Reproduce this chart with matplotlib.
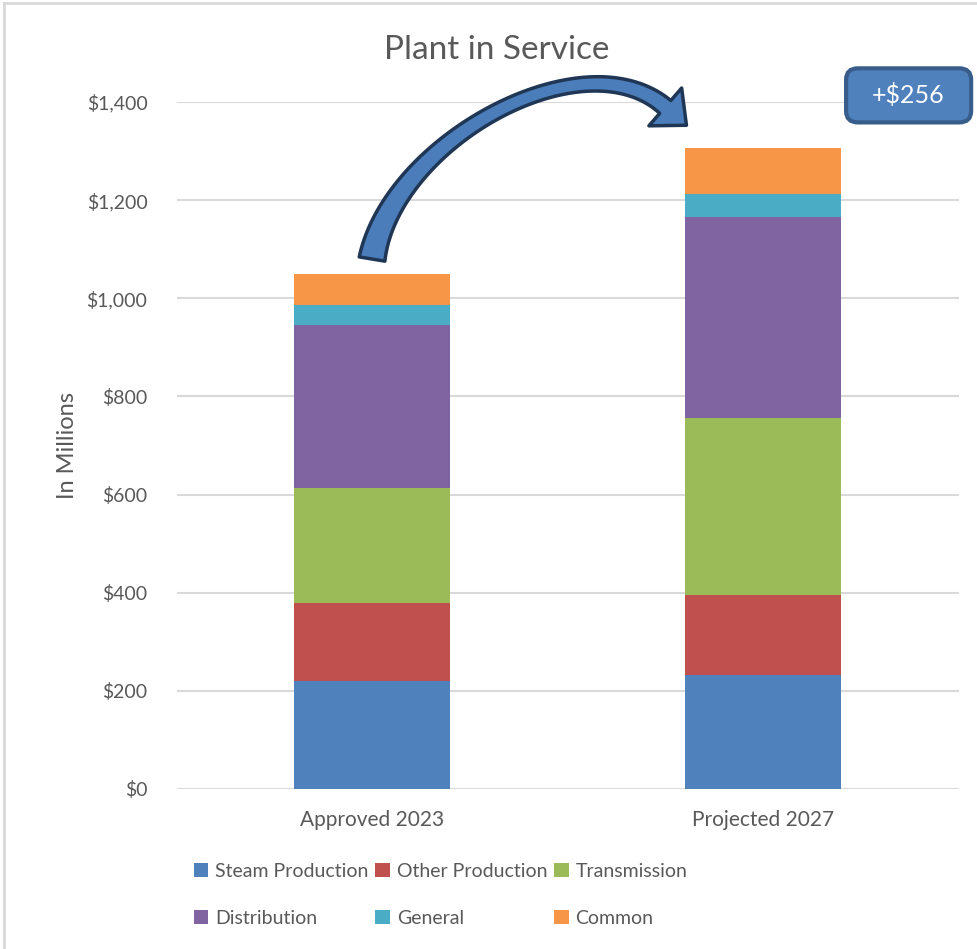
import numpy as np
import matplotlib
matplotlib.use('Agg')
import matplotlib.pyplot as plt
from matplotlib.patches import Polygon, FancyBboxPatch
from matplotlib.lines import Line2D
from matplotlib.transforms import IdentityTransform
from matplotlib.ticker import FuncFormatter

plt.rcParams['font.family'] = ['Lato', 'DejaVu Sans']

# plant balances, $ millions
categories = ['Approved 2023', 'Projected 2027']
steam = [220, 232]
other_prod = [159, 163]
transmission = [234, 361]
distribution = [333, 410]
general = [40, 47]
common = [64, 93]

series_names = ['Steam Production', 'Other Production', 'Transmission',
                'Distribution', 'General', 'Common']
series_vals = [steam, other_prod, transmission, distribution, general, common]
colors = ['#4f81bd', '#c0504d', '#9bbb59', '#8064a2', '#4bacc6', '#f79646']
gray = '#595959'

fig = plt.figure(figsize=(9.77, 9.49), dpi=100)
ax = fig.add_axes([0.1807, 0.1686, 0.8004, 0.7239])

x = np.arange(len(categories))
bottom = np.zeros(len(categories))
bars = []
for name, vals, c in zip(series_names, series_vals, colors):
    b = ax.bar(x, vals, 0.4, bottom=bottom, color=c, label=name, zorder=3)
    bars.append(b)
    bottom += np.array(vals)
totals = bottom

ax.set_xlim(-0.5, 1.5)
ax.set_ylim(0, 1400)
ax.set_yticks(np.arange(0, 1401, 200))
ax.yaxis.set_major_formatter(FuncFormatter(lambda v, p: '${:,.0f}'.format(v)))
ax.set_xticks(x)
ax.set_xticklabels(categories)
ax.grid(axis='y', color='#d9d9d9', lw=1.5, zorder=0)
for s in ax.spines.values():
    s.set_visible(False)
ax.tick_params(axis='y', length=0, pad=21, labelsize=14, labelcolor=gray)
ax.tick_params(axis='x', length=0, pad=15, labelsize=15, labelcolor=gray)

fig.text(0.508, 0.947, 'Plant in Service', ha='center', va='center',
         fontsize=24, color=gray)
fig.text(0.0686, 0.531, 'In Millions', rotation=90, ha='center',
         va='center', fontsize=17, color=gray)

# legend laid out row by row
order = [0, 3, 1, 4, 2, 5]
handles = [bars[i] for i in order]
labels = [series_names[i] for i in order]
fig.legend(handles, labels, loc='center', bbox_to_anchor=(0.451, 0.057),
           ncol=3, frameon=False, fontsize=14, labelcolor=gray,
           handlelength=0.75, handleheight=0.75, handletextpad=0.35,
           columnspacing=0.35, labelspacing=1.55)

# curved arrow from the 2023 total toward the 2027 total
P = np.array([[0.0, 1080], [0.05, 1320], [0.54, 1535], [0.75, 1390]])
Pd = ax.transData.transform(P)
t = np.linspace(0, 1, 80)[:, None]
pts = ((1 - t) ** 3 * Pd[0] + 3 * (1 - t) ** 2 * t * Pd[1]
       + 3 * (1 - t) * t ** 2 * Pd[2] + t ** 3 * Pd[3])
der = (3 * (1 - t) ** 2 * (Pd[1] - Pd[0]) + 6 * (1 - t) * t * (Pd[2] - Pd[1])
       + 3 * t ** 2 * (Pd[3] - Pd[2]))
tan = der / np.linalg.norm(der, axis=1)[:, None]
nrm = np.column_stack([-tan[:, 1], tan[:, 0]])
w = 26 * (1 - t) ** 2 + 8 * 2 * t * (1 - t) + 17 * t ** 2
side_a = pts + nrm * w / 2
side_b = pts - nrm * w / 2
base, d, n = pts[-1], tan[-1], nrm[-1]
head = [base + n * 25, base + d * 28, base - n * 25]
outline = np.vstack([side_a, head, side_b[::-1]])
fig.add_artist(Polygon(outline, closed=True, transform=IdentityTransform(),
                       fc='#4a7dba', ec='#1f3655', lw=2.5, joinstyle='round'))

# increase badge
diff = totals[1] - totals[0]
fig.add_artist(FancyBboxPatch((0.866, 0.871), 0.128, 0.057,
                              boxstyle='round,pad=0,rounding_size=0.012',
                              transform=fig.transFigure, fc='#4f81bd',
                              ec='#385d8a', lw=3))
fig.text(0.930, 0.8995, '+${:,.0f}'.format(diff), ha='center', va='center',
         fontsize=18, color='white')

# outer frame
fig.add_artist(Line2D([0.004, 1.0], [0.9968, 0.9968], color='#d9d9d9', lw=2,
                      transform=fig.transFigure))
fig.add_artist(Line2D([0.004, 0.004], [0.0, 0.9968], color='#d9d9d9', lw=2,
                      transform=fig.transFigure))

fig.savefig('out.png', dpi=100, facecolor='white')
